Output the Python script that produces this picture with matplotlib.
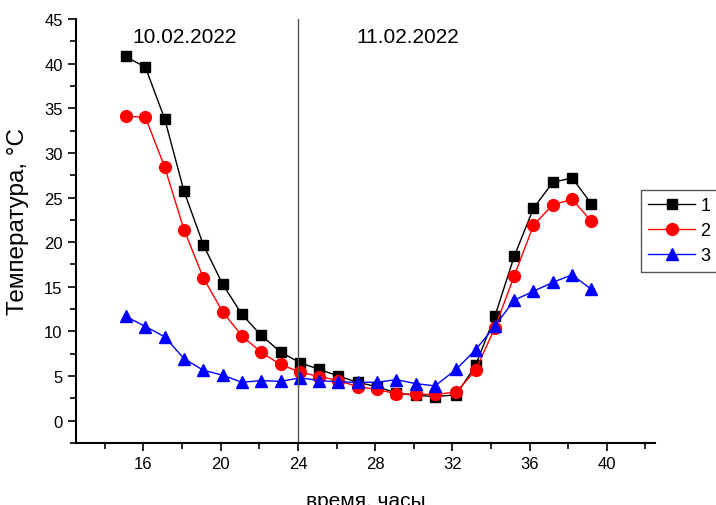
import matplotlib
matplotlib.use('Agg')
import matplotlib.pyplot as plt
from matplotlib.ticker import MultipleLocator

plt.rcParams['font.family'] = ['Liberation Sans', 'DejaVu Sans']

# время, часы (точки слегка смещены относительно целых часов)
hours = [15.07, 16.1, 17.1, 18.1, 19.1, 20.1, 21.1, 22.1, 23.1, 24.1, 25.1, 26.1,
         27.1, 28.1, 29.1, 30.1, 31.1, 32.2, 33.2, 34.2, 35.2, 36.2, 37.2, 38.2, 39.2]

# температура, °C
t1 = [40.8, 39.6, 33.8, 25.7, 19.7, 15.3, 11.9, 9.55, 7.7, 6.5, 5.75, 5.0,
      4.3, 3.8, 3.1, 2.85, 2.7, 2.9, 6.2, 11.7, 18.4, 23.8, 26.7, 27.2, 24.3]
t2 = [34.1, 34.0, 28.4, 21.4, 16.0, 12.2, 9.5, 7.65, 6.3, 5.45, 4.95, 4.5,
      3.8, 3.5, 3.0, 2.95, 2.95, 3.2, 5.65, 10.4, 16.2, 21.9, 24.2, 24.8, 22.35]
t3 = [11.7, 10.55, 9.4, 6.95, 5.65, 5.1, 4.3, 4.5, 4.4, 4.8, 4.5, 4.35,
      4.3, 4.3, 4.6, 4.15, 3.9, 5.75, 7.95, 10.6, 13.5, 14.5, 15.5, 16.35, 14.7]

labels = ['1', '2', '3']
day_labels = ['10.02.2022', '11.02.2022']
day_split = 24

fig = plt.figure(figsize=(7.16, 5.06), dpi=100)
ax = fig.add_axes([0.106, 0.1225, 0.809, 0.838])

ax.plot(hours, t1, color='black', lw=1, marker='s', ms=7.5, label=labels[0])
ax.plot(hours, t2, color='red', lw=1, marker='o', ms=8.5, label=labels[1])
ax.plot(hours, t3, color='blue', lw=1, marker='^', ms=9, label=labels[2])

ax.axvline(day_split, color='#555555', lw=1)

# подписи дат
ax.text(0.188, 0.98, day_labels[0], transform=ax.transAxes, ha='center', va='top', fontsize=15)
ax.text(0.573, 0.98, day_labels[1], transform=ax.transAxes, ha='center', va='top', fontsize=15)

ax.set_xlim(12.5, 42.5)
ax.set_ylim(-2.5, 45)
ax.xaxis.set_major_locator(MultipleLocator(4))
ax.xaxis.set_minor_locator(MultipleLocator(2))
ax.yaxis.set_major_locator(MultipleLocator(5))
ax.yaxis.set_minor_locator(MultipleLocator(2.5))
ax.set_xticks([16, 20, 24, 28, 32, 36, 40])

for s in ['top', 'right']:
    ax.spines[s].set_visible(False)
for s in ['left', 'bottom']:
    ax.spines[s].set_linewidth(1.5)

ax.tick_params(which='major', direction='out', length=6, width=1.2, labelsize=12)
ax.tick_params(which='minor', direction='out', length=4, width=1.2)

ax.set_ylabel('Температура, °C', fontsize=17.5)
ax.yaxis.set_label_coords(-0.081, 0.525)
ax.set_xlabel('время, часы', fontsize=15, labelpad=14)

leg = fig.legend(loc='upper left', bbox_to_anchor=(0.895, 0.6225), fontsize=13,
                 handlelength=2.6, handletextpad=0.3, fancybox=False,
                 edgecolor='#555555', framealpha=1, borderaxespad=0,
                 labelspacing=0.45)
leg.get_frame().set_linewidth(1)

fig.savefig('out.png', dpi=100)
